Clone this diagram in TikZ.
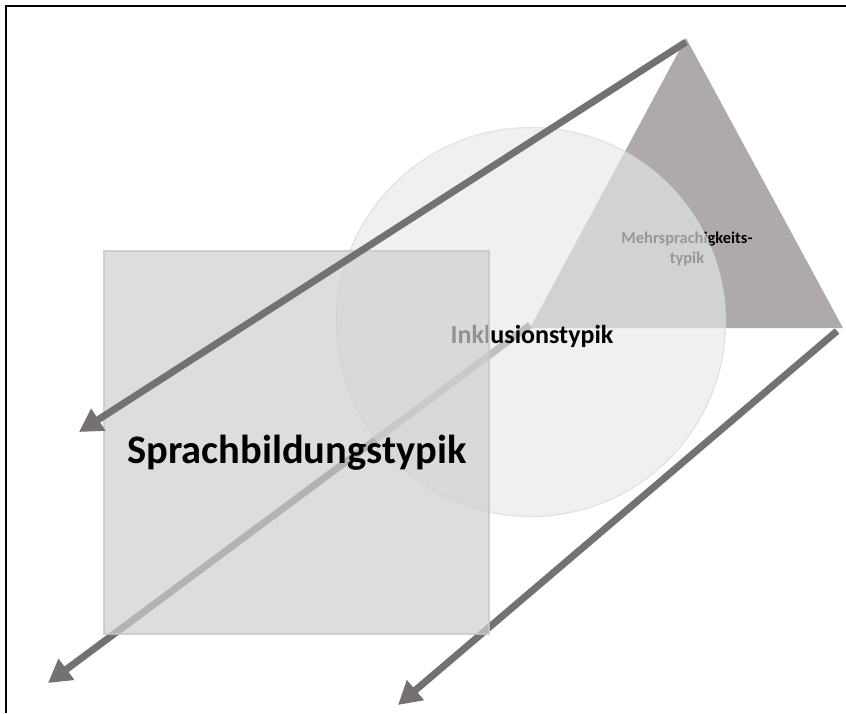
\documentclass[tikz,border=0pt]{standalone}
\usepackage{fontspec}
\setmainfont{Carlito}
\usetikzlibrary{arrows.meta,calc}
\definecolor{arrowgray}{HTML}{767171}
\definecolor{trigray}{HTML}{AEAAAA}
\tikzset{
% thick grey arrows and the three translucent shapes
big arrow/.style={draw=arrowgray,line width=7pt,-{Triangle[length=23pt,width=25pt]}},
square shape/.style={fill=black!19,fill opacity=0.7,draw=black!22,draw opacity=0.8,line width=1.5pt},
circle shape/.style={fill=black!9,fill opacity=0.65,draw=black!15,draw opacity=0.7,line width=1.2pt},
type label/.style={font=\bfseries,text=black,inner sep=0pt}
}
\begin{document}
\begin{tikzpicture}[x=1pt,y=-1pt]
\useasboundingbox (0,0) rectangle (846,713);
% frame
\draw[line width=2pt] (6,713) -- (6,6) -- (846,6);
% triangle corners and arrow tips
\coordinate (apex) at (686,38);
\coordinate (left) at (530,328);
\coordinate (right) at (843,328);
\coordinate (tipA) at (79,432);
\coordinate (tipB) at (48,683);
\coordinate (tipC) at (398,705);
\fill[trigray] (apex) -- (left) -- (right) -- cycle;
\node(mehr)[type label,align=center,font=\bfseries\fontsize{16.5}{20}\selectfont] at (687,249) {Mehrsprachigkeits-\\typik};
\draw[big arrow] ($(left)+(0,-3)$) -- (tipB);
\draw[big arrow] ($(right)+(-6,3)$) -- (tipC);
\draw[circle shape] (531,322) circle (194.5);
\node(inkl)[type label,font=\bfseries\fontsize{26}{30}\selectfont,anchor=base] at (532,343) {Inklusionstypik};
\draw[square shape] (104,251) rectangle (489,634);
\node(sprach)[type label,font=\bfseries\fontsize{40.5}{48}\selectfont,anchor=base] at (297,463) {Sprachbildungstypik};
\draw[big arrow] ($(apex)+(0,4)$) -- (tipA);
\end{tikzpicture}
\end{document}
